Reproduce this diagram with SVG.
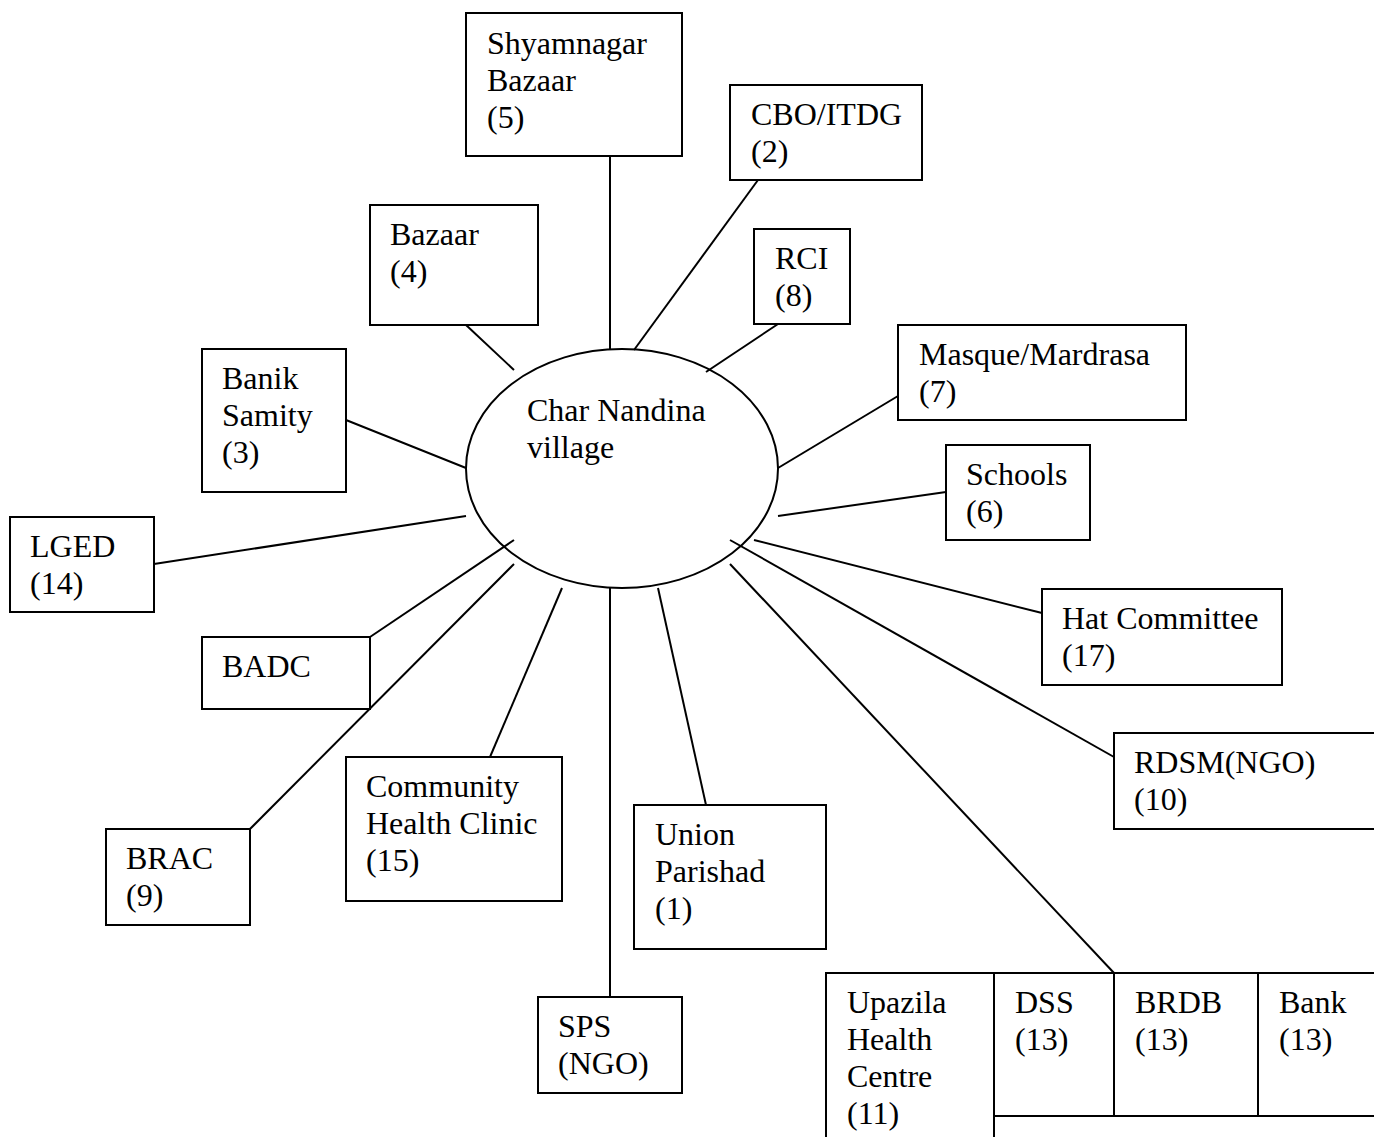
<svg xmlns="http://www.w3.org/2000/svg" width="1374" height="1137" viewBox="0 0 1374 1137">
<style>
.b{fill:#fff;stroke:#000;stroke-width:2}
.e{fill:none;stroke:#000;stroke-width:2}
.l{stroke:#000;stroke-width:2;fill:none}
text{font-family:"Liberation Serif","Times New Roman",serif;font-size:32px;fill:#000}
</style>
<rect width="1374" height="1137" fill="#fff"/>
<g id="village"><ellipse class="e" cx="622" cy="468.5" rx="156" ry="119.5"/><text x="527" y="421">Char Nandina</text><text x="527" y="458">village</text></g>
<g id="connectors" class="l">
<line x1="610" y1="156" x2="610" y2="349"/>
<line x1="758" y1="180" x2="634" y2="350"/>
<line x1="466" y1="325" x2="514" y2="370"/>
<line x1="778" y1="324" x2="706" y2="372"/>
<line x1="898" y1="396" x2="778" y2="468"/>
<line x1="346" y1="420" x2="466" y2="468"/>
<line x1="946" y1="492" x2="778" y2="516"/>
<line x1="154" y1="564" x2="466" y2="516"/>
<line x1="1042" y1="613" x2="754" y2="540"/>
<line x1="370" y1="637" x2="514" y2="540"/>
<line x1="1114" y1="757" x2="730" y2="540"/>
<line x1="490" y1="757" x2="562" y2="588"/>
<line x1="706" y1="805" x2="658" y2="588"/>
<line x1="250" y1="829" x2="514" y2="564"/>
<line x1="610" y1="997" x2="610" y2="588"/>
<line x1="1114" y1="973" x2="730" y2="564"/>
</g>
<g id="shyamnagar"><rect class="b" x="466" y="13" width="216" height="143"/><text x="487" y="54">Shyamnagar</text><text x="487" y="91">Bazaar</text><text x="487" y="128">(5)</text></g>
<g id="cbo"><rect class="b" x="730" y="85" width="192" height="95"/><text x="751" y="125">CBO/ITDG</text><text x="751" y="162">(2)</text></g>
<g id="bazaar"><rect class="b" x="370" y="205" width="168" height="120"/><text x="390" y="245">Bazaar</text><text x="390" y="282">(4)</text></g>
<g id="rci"><rect class="b" x="754" y="229" width="96" height="95"/><text x="775" y="269">RCI</text><text x="775" y="306">(8)</text></g>
<g id="masque"><rect class="b" x="898" y="325" width="288" height="95"/><text x="919" y="365">Masque/Mardrasa</text><text x="919" y="402">(7)</text></g>
<g id="banik"><rect class="b" x="202" y="349" width="144" height="143"/><text x="222" y="389">Banik</text><text x="222" y="426">Samity</text><text x="222" y="463">(3)</text></g>
<g id="schools"><rect class="b" x="946" y="445" width="144" height="95"/><text x="966" y="485">Schools</text><text x="966" y="522">(6)</text></g>
<g id="lged"><rect class="b" x="10" y="517" width="144" height="95"/><text x="30" y="557">LGED</text><text x="30" y="594">(14)</text></g>
<g id="hat"><rect class="b" x="1042" y="589" width="240" height="96"/><text x="1062" y="629">Hat Committee</text><text x="1062" y="666">(17)</text></g>
<g id="badc"><rect class="b" x="202" y="637" width="168" height="72"/><text x="222" y="677">BADC</text></g>
<g id="rdsm"><rect class="b" x="1114" y="733" width="270" height="96"/><text x="1134" y="773">RDSM(NGO)</text><text x="1134" y="810">(10)</text></g>
<g id="chc"><rect class="b" x="346" y="757" width="216" height="144"/><text x="366" y="797">Community</text><text x="366" y="834">Health Clinic</text><text x="366" y="871">(15)</text></g>
<g id="union"><rect class="b" x="634" y="805" width="192" height="144"/><text x="655" y="845">Union</text><text x="655" y="882">Parishad</text><text x="655" y="919">(1)</text></g>
<g id="brac"><rect class="b" x="106" y="829" width="144" height="96"/><text x="126" y="869">BRAC</text><text x="126" y="906">(9)</text></g>
<g id="sps"><rect class="b" x="538" y="997" width="144" height="96"/><text x="558" y="1037">SPS</text><text x="558" y="1074">(NGO)</text></g>
<g id="upazila-table">
<rect class="b" x="826" y="973" width="560" height="180"/>
<line class="l" x1="994" y1="973" x2="994" y2="1137"/>
<line class="l" x1="1114" y1="973" x2="1114" y2="1116"/>
<line class="l" x1="1258" y1="973" x2="1258" y2="1116"/>
<line class="l" x1="994" y1="1116" x2="1374" y2="1116"/>
<text x="847" y="1013">Upazila</text><text x="847" y="1050">Health</text><text x="847" y="1087">Centre</text><text x="847" y="1124">(11)</text>
<text x="1015" y="1013">DSS</text><text x="1015" y="1050">(13)</text>
<text x="1135" y="1013">BRDB</text><text x="1135" y="1050">(13)</text>
<text x="1279" y="1013">Bank</text><text x="1279" y="1050">(13)</text>
</g>
</svg>
